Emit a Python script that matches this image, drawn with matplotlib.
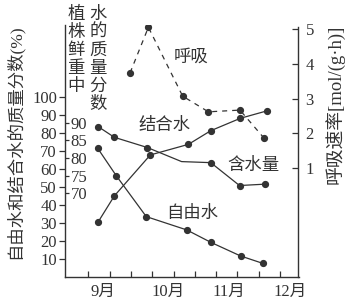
import numpy as np
import matplotlib as mpl
mpl.use('Agg')
import matplotlib.pyplot as plt
from matplotlib.ticker import FixedLocator, NullFormatter

mpl.rcParams['font.family'] = ['Liberation Serif', 'Noto Sans CJK SC']
mpl.rcParams['axes.unicode_minus'] = False

# ----------------------------------------------------------------------
# data (x in 10-day steps from early September)
# ----------------------------------------------------------------------
month_pos = [0.69, 3.75, 6.6, 9.46]
month_lab = ['9月', '10月', '11月', '12月']

x_resp = [1.96, 2.82, 4.43, 5.64, 7.12, 8.23]
resp = [3.74, 5.05, 3.07, 2.62, 2.67, 1.88]          # mol/(g.h)

x_bound = [0.47, 1.22, 2.91, 4.70, 5.75, 7.14, 8.38]
bound = [30.8, 45.1, 67.9, 73.8, 81.4, 88.3, 92.4]   # %

x_free = [0.44, 1.32, 2.72, 4.62, 5.75, 7.15, 8.19]
free = [71.6, 56.2, 33.6, 26.2, 19.3, 11.7, 7.6]     # %

x_total = [0.47, 1.22, 2.77, 4.38, 5.75, 7.10, 8.32]
total = [88.9, 85.9, 83.0, 79.0, 78.7, 72.2, 72.6]   # %
total_marks = [0, 1, 2, 4, 5, 6]

yt_outer = [10, 20, 30, 40, 50, 60, 70, 80, 90, 100]
yt_inner = [70, 75, 80, 85, 90]
yt_resp = [1, 2, 3, 4, 5]
xt_minor = list(range(10))

# ----------------------------------------------------------------------
col = '#333333'
fsl = 12
W, H = 346, 306
fig = plt.figure(figsize=(W/100., H/100.), dpi=100, facecolor='w')
ax = fig.add_axes([64.5/W, 1-277./H, 234./W, 252./H])
ax.set_xlim(-1.12, 9.87)
ax.set_ylim(0, 140.2)
for s in ['top', 'right']:
    ax.spines[s].set_visible(False)
for s in ['left', 'bottom']:
    ax.spines[s].set_color(col)
    ax.spines[s].set_linewidth(1.0)

ax.set_yticks(yt_outer)
ax.tick_params(axis='y', direction='out', length=4, width=0.9, color=col,
               labelsize=fsl, pad=1.5, labelcolor=col)
ax.xaxis.set_major_locator(FixedLocator(month_pos))
ax.set_xticklabels(month_lab)
ax.xaxis.set_minor_locator(FixedLocator(xt_minor))
ax.xaxis.set_minor_formatter(NullFormatter())
ax.tick_params(axis='x', which='major', length=0, labelsize=fsl, pad=5,
               labelcolor=col)
ax.tick_params(axis='x', which='minor', direction='in', length=4, width=0.9,
               color=col)

# bound / free water on outer left axis
ax.plot(x_bound, bound, '-o', color=col, lw=0.9, ms=4.2)
ax.plot(x_free, free, '-o', color=col, lw=0.9, ms=4.2)

# respiration on right axis
ax2 = ax.twinx()
ax2.set_ylim(-2.126, 5.115)
for s in ['top', 'left', 'bottom']:
    ax2.spines[s].set_visible(False)
ax2.spines['right'].set_color(col)
ax2.spines['right'].set_linewidth(1.0)
ax2.spines['right'].set_bounds(-2.126, 5.06)
ax2.set_yticks(yt_resp)
ax2.tick_params(axis='y', direction='in', length=4, width=0.9, color=col,
                labelsize=fsl, pad=5, labelcolor=col)
ax2.plot(x_resp, resp, 'o', color=col, ls=(0, (4, 4)), lw=0.9, ms=4.2)

# total water content on inner left axis
ax3 = ax.twinx()
ax3.set_ylim(46.22, 117.8)
for s in ['top', 'left', 'bottom']:
    ax3.spines[s].set_visible(False)
ax3.spines['right'].set_position(('axes', 0))
ax3.spines['right'].set_visible(False)
ax3.set_yticks(yt_inner)
ax3.tick_params(axis='y', direction='out', length=3, width=0.9, color=col,
                labelsize=fsl, pad=1.5, labelcolor=col)
ax3.plot(x_total, total, '-o', color=col, lw=0.9, ms=4.2,
         markevery=total_marks)

# curve names
fcjk = dict(family=['Noto Sans CJK SC', 'DejaVu Sans'], fontsize=12.5,
            color=col, ha='center', va='center')
fmix = dict(fcjk, family=['Liberation Serif', 'Noto Sans CJK SC'])
fig.text(191.5/W, 1-56.5/H, '呼吸', **fcjk)
fig.text(165./W, 1-125./H, '结合水', **fcjk)
fig.text(253./W, 1-165./H, '含水量', **fcjk)
fig.text(192./W, 1-213./H, '自由水', **fcjk)

# axis titles
fig.text(14./W, 1-142./H, '自由水和结合水的质量分数(%)', rotation=90,
         **fmix)
fig.text(335./W, 1-104./H, '呼吸速率[mol/(g·h)]', rotation=90,
         **dict(fmix, fontsize=13.5))
col1 = '植株鲜重中'
col2 = '水的质量分数'
for i, ch in enumerate(col1):
    fig.text(76./W, 1-(14.+18*i)/H, ch, **fcjk)
for i, ch in enumerate(col2):
    fig.text(98./W, 1-(14.+18*i)/H, ch, **fcjk)

plt.savefig('out.png', dpi=100, facecolor='w')
